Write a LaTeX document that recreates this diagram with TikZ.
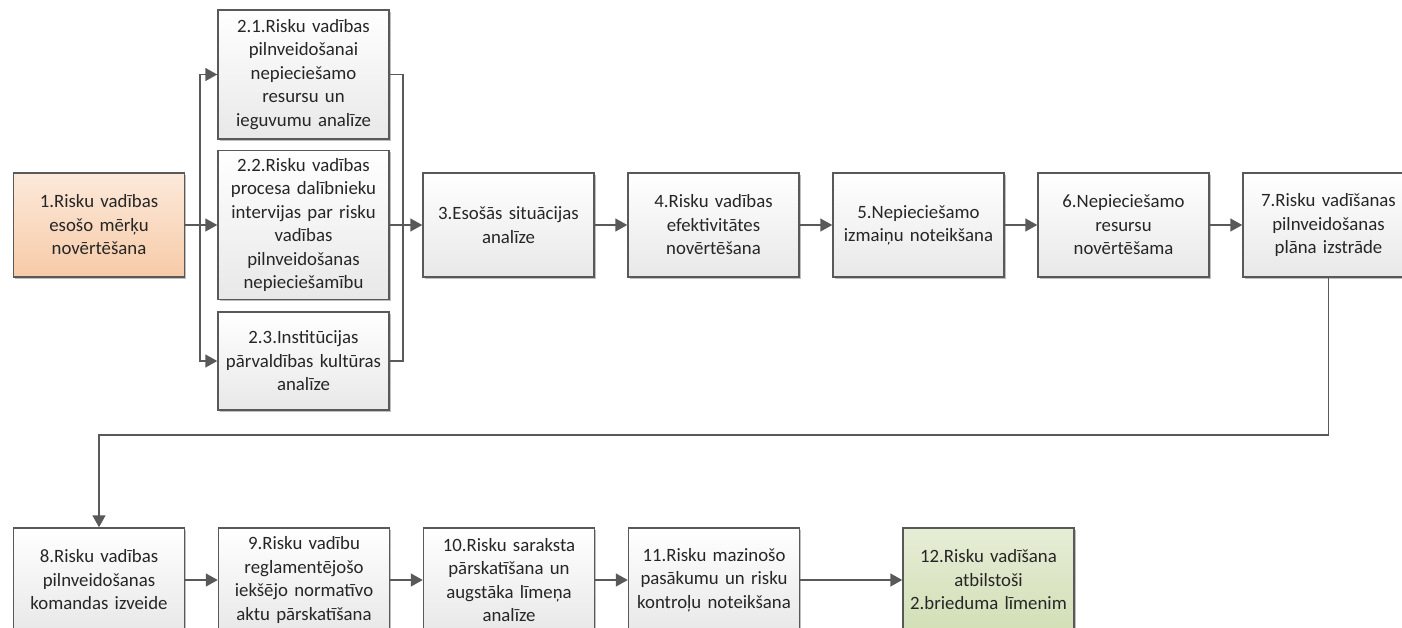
\documentclass[tikz,border=0pt]{standalone}
\usepackage{fontspec}
\setmainfont{Carlito}
\usetikzlibrary{positioning, arrows.meta, shadows}
\definecolor{edgegray}{HTML}{595959}
\definecolor{peachtop}{HTML}{FCE9DA}
\definecolor{peachbot}{HTML}{F7CBA8}
\definecolor{greentop}{HTML}{E6EDD6}
\definecolor{greenbot}{HTML}{D2DFB6}
\tikzstyle{stepbox} = [rectangle, draw=edgegray, line width=0.75pt, top color=white, bottom color=black!9, minimum width=85.5pt, minimum height=52pt, text width=82pt, inner sep=1pt, align=center, font=\fontsize{9.4}{11.75}\selectfont, text=black!85, drop shadow={shadow xshift=0.8pt, shadow yshift=-0.8pt, opacity=0.25, fill=black}]
\tikzstyle{flow} = [draw=edgegray, line width=0.8pt, -{Triangle[length=6pt,width=6.5pt]}]
\tikzstyle{link} = [draw=edgegray, line width=0.8pt]

\begin{document}
\begin{tikzpicture}[node distance=16.25pt]
    \useasboundingbox (0,0) rectangle (701pt,-313.5pt);

    % first row
    \node[stepbox, top color=peachtop, bottom color=peachbot] (step1) at (49.5pt,-112.5pt) {1.Risku vadības\\esošo mērķu\\novērtēšana};
    \node[stepbox, minimum height=64.5pt] (step21) at (151.75pt,-37.25pt) {2.1.Risku vadības\\pilnveidošanai\\nepieciešamo\\resursu un\\ieguvumu analīze};
    \node[stepbox, minimum height=74.5pt] (step22) at (151.75pt,-112.5pt) {2.2.Risku vadības\\procesa dalībnieku\\intervijas par risku\\vadības\\pilnveidošanas\\nepieciešamību};
    \node[stepbox, minimum height=49pt] (step23) at (151.75pt,-180.5pt) {2.3.Institūcijas\\pārvaldības kultūras\\analīze};
    \node[stepbox] (step3) at (254.25pt,-112.5pt) {3.Esošās situācijas\\analīze};
    \node[stepbox, right=of step3] (step4) {4.Risku vadības\\efektivitātes\\novērtēšana};
    \node[stepbox, right=of step4] (step5) {5.Nepieciešamo\\izmaiņu noteikšana};
    \node[stepbox, right=of step5] (step6) {6.Nepieciešamo\\resursu\\novērtēšama};
    \node[stepbox, right=of step6] (step7) {7.Risku vadīšanas\\pilnveidošanas\\plāna izstrāde};

    % second row
    \node[stepbox] (step8) at (49.5pt,-290pt) {8.Risku vadības\\pilnveidošanas\\komandas izveide};
    \node[stepbox, right=of step8] (step9) {9.Risku vadību\\reglamentējošo\\iekšējo normatīvo\\aktu pārskatīšana};
    \node[stepbox, right=of step9] (step10) {10.Risku saraksta\\pārskatīšana un\\augstāka līmeņa\\analīze};
    \node[stepbox, right=of step10] (step11) {11.Risku mazinošo\\pasākumu un risku\\kontroļu noteikšana};
    \node[stepbox, top color=greentop, bottom color=greenbot, right=51pt of step11] (step12) {12.Risku vadīšana\\atbilstoši\\2.brieduma līmenim};

    \coordinate (split) at (100pt,-112.5pt);
    \coordinate (join) at (201.5pt,-112.5pt);
    \coordinate (turn) at (step7.south |- 0,-217.5pt);

    \draw[link] (step1) -- (split);
    \draw[flow] (split) |- (step21);
    \draw[flow] (split) -- (step22);
    \draw[flow] (split) |- (step23);
    \draw[link] (step21) -| (join);
    \draw[link] (step23) -| (join);
    \draw[flow] (step22) -- (step3);
    \draw[flow] (step3) -- (step4);
    \draw[flow] (step4) -- (step5);
    \draw[flow] (step5) -- (step6);
    \draw[flow] (step6) -- (step7);
    \draw[flow] (step7) -- (turn) -| (step8);
    \draw[flow] (step8) -- (step9);
    \draw[flow] (step9) -- (step10);
    \draw[flow] (step10) -- (step11);
    \draw[flow] (step11) -- (step12);
\end{tikzpicture}
\end{document}
